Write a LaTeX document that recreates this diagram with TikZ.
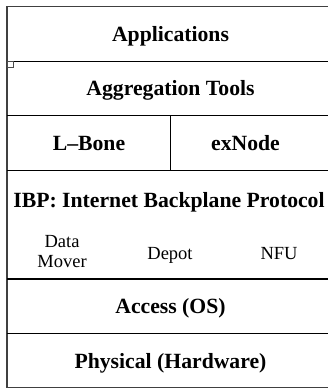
\documentclass[tikz,border=0pt]{standalone}
\usepackage{fontspec}
\setmainfont{Liberation Serif}
\begin{document}
\begin{tikzpicture}[x=1pt,y=-1pt,
  outer/.style={draw=black!75,line width=1.3pt},
  inner/.style={draw=black,line width=0.9pt},
  big/.style={font=\fontsize{21.7}{24}\selectfont\bfseries,inner sep=0pt,anchor=base},
  small/.style={font=\fontsize{18.5}{20}\selectfont,inner sep=0pt,anchor=base,align=center}]
\useasboundingbox (0,0) rectangle (328,390);
% outer frame (right side lies outside the picture)
\draw[outer] (340,6.5) -- (7,6.5) -- (7,387.5) -- (340,387.5);
% layer separators
\draw[inner] (7,61) -- (340,61);
\draw[inner] (7,115.5) -- (340,115.5);
\draw[inner] (7,170) -- (340,170);
\draw[inner,line width=1.4pt] (7,279) -- (340,279);
\draw[inner] (7,333) -- (340,333);
\draw[inner] (170.7,115.5) -- (170.7,170);
% small square
\draw[draw=black!70,line width=0.6pt] (7,61) rectangle (13.5,67.5);
% labels
\node[big] (app) at (170.5,41.5) {Applications};
\node[big] (agg) at (170.5,96) {Aggregation Tools};
\node[big] (lbone) at (89,150.5) {L--Bone};
\node[big] (exn) at (245.5,150.5) {exNode};
\node[big] (ibp) at (169,207.5) {IBP: Internet Backplane Protocol};
\node[small] (dm1) at (62,247.5) {Data};
\node[small] (dm2) at (62,267.5) {Mover};
\node[small] (depot) at (170,259.5) {Depot};
\node[small] (nfu) at (279,259.5) {NFU};
\node[big] (acc) at (170.5,313.5) {Access (OS)};
\node[big] (phys) at (170.5,368.5) {Physical (Hardware)};
\end{tikzpicture}
\end{document}
